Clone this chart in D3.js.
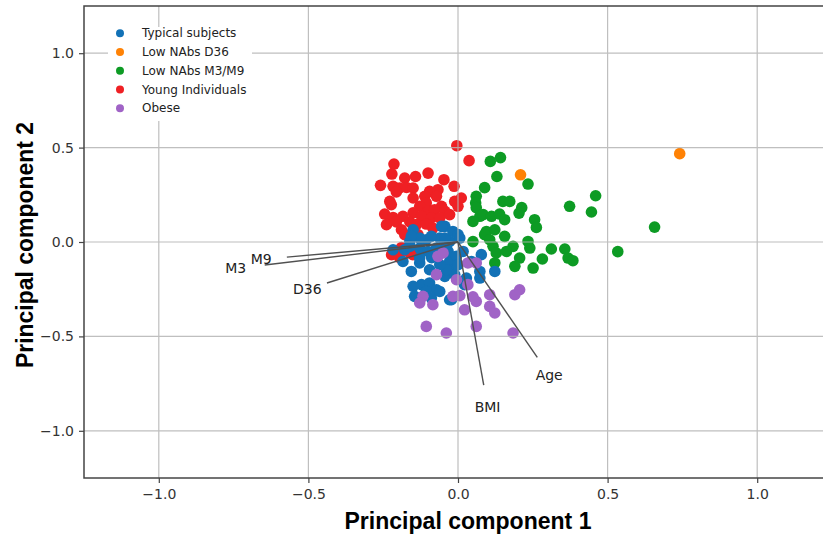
<!DOCTYPE html>
<html>
<head>
<meta charset="utf-8">
<script src="https://cdn.jsdelivr.net/npm/d3@7"></script>
<style>
  html, body { margin: 0; padding: 0; background: #fff; }
  svg { display: block; }
</style>
</head>
<body>
<svg id="chart" width="823" height="540"></svg>
<script>
// ---------------- DATA ----------------
const groupNames = ["Typical subjects", "Low NAbs D36", "Low NAbs M3/M9", "Young Individuals", "Obese"];
const groupColors = ["#1271b6", "#ff8205", "#0d9b24", "#ef2024", "#a063c6"];

const typical = [
  [-0.044,0.083],[-0.017,0.056],[-0.150,0.065],[-0.161,0.003],[-0.106,0.012],[-0.061,0.021],
  [-0.028,0.003],[0.000,0.039],[-0.178,-0.041],[-0.128,-0.032],[-0.100,-0.050],[-0.072,-0.032],
  [-0.033,-0.050],[-0.184,-0.103],[-0.128,-0.111],[-0.028,-0.103],[-0.005,-0.076],[-0.156,-0.156],
  [-0.095,-0.147],[-0.028,-0.147],[-0.044,-0.182],[-0.011,-0.173],[-0.150,-0.235],[-0.122,-0.226],
  [-0.095,-0.217],[-0.072,-0.253],[-0.145,-0.288],[-0.106,-0.262],[-0.089,-0.297],[-0.028,-0.306],
  [0.017,-0.050],[0.078,-0.067],[0.045,-0.103],[0.000,-0.120],[-0.039,-0.147],[0.073,-0.156],
  [0.123,-0.156],[0.028,-0.191],[0.073,-0.191],[0.022,-0.226],[-0.061,-0.262],[-0.022,-0.306],
  [-0.055,0.083],[0.006,0.021],[-0.044,0.021],[-0.089,0.030],[-0.128,0.021],[-0.156,0.030],
  [-0.039,-0.023],[-0.161,-0.023],[-0.217,-0.041],[-0.128,-0.085],[-0.088,-0.083],[-0.061,-0.120]
];
const lowD36 = [
  [0.741,0.468],[0.209,0.356]
];
const lowM3M9 = [
  [0.108,0.427],[0.142,0.447],[0.130,0.347],[0.234,0.307],[0.089,0.288],[0.061,0.242],
  [0.059,0.207],[0.061,0.182],[0.150,0.215],[0.173,0.215],[0.213,0.182],[0.204,0.153],
  [0.073,0.136],[0.084,0.145],[0.112,0.136],[0.139,0.148],[0.156,0.118],[0.050,0.109],
  [0.256,0.118],[0.262,0.077],[0.095,0.056],[0.123,0.065],[0.089,0.039],[0.156,0.030],
  [0.050,0.002],[0.234,0.003],[0.373,0.189],[0.460,0.245],[0.446,0.159],[0.657,0.079],
  [0.534,-0.051],[0.117,-0.023],[0.184,-0.023],[0.240,-0.032],[0.312,-0.037],[0.357,-0.037],
  [0.368,-0.085],[0.384,-0.099],[0.282,-0.090],[0.206,-0.085],[0.128,-0.058],[0.190,-0.129],
  [0.251,-0.138],[0.123,-0.111],[0.106,0.012],[0.162,-0.050]
];
const young = [
  [-0.004,0.510],[0.037,0.431],[-0.214,0.413],[-0.221,0.360],[-0.259,0.300],[-0.178,0.339],
  [-0.142,0.347],[-0.100,0.365],[-0.047,0.330],[-0.013,0.295],[-0.217,0.295],[-0.195,0.286],
  [-0.172,0.289],[-0.150,0.286],[-0.206,0.265],[-0.095,0.268],[-0.067,0.277],[-0.111,0.242],
  [-0.072,0.242],[-0.150,0.233],[-0.228,0.215],[-0.223,0.198],[-0.106,0.207],[-0.011,0.215],
  [0.000,0.189],[-0.055,0.189],[-0.128,0.189],[-0.150,0.154],[-0.100,0.162],[-0.078,0.171],
  [-0.044,0.162],[-0.245,0.148],[-0.217,0.130],[-0.184,0.136],[-0.122,0.136],[-0.089,0.127],
  [-0.061,0.127],[-0.028,0.145],[-0.239,0.092],[-0.206,0.106],[-0.189,0.065],[-0.161,0.106],
  [-0.139,0.092],[-0.106,0.095],[-0.084,0.074],[-0.178,0.039],[-0.134,0.039],[-0.050,0.083],
  [0.011,0.233],[-0.202,-0.057],[-0.161,-0.057],[-0.189,-0.030],[-0.195,-0.083],[-0.151,-0.067],
  [-0.222,-0.067]
];
const obese = [
  [-0.067,-0.076],[-0.072,-0.173],[-0.005,-0.200],[-0.117,-0.288],[-0.128,-0.323],[-0.084,-0.332],
  [-0.017,-0.288],[-0.106,-0.447],[-0.039,-0.482],[0.061,-0.111],[0.033,-0.226],[0.061,-0.315],
  [0.022,-0.359],[0.106,-0.279],[0.106,-0.341],[0.123,-0.376],[0.190,-0.279],[0.206,-0.253],
  [0.061,-0.447],[0.184,-0.482],[0.050,-0.290],[-0.050,-0.058],[0.006,-0.284],[0.033,-0.111]
];

const loadingNames = ["M9", "M3", "D36", "BMI", "Age"];
const loadingX = [-0.572, -0.646, -0.438, 0.086, 0.265];
const loadingY = [-0.080, -0.122, -0.217, -0.758, -0.611];

const tickValues = [-1.0, -0.5, 0.0, 0.5, 1.0];
const xTitle = "Principal component 1";
const yTitle = "Principal component 2";

// ---------------- LAYOUT ----------------
const svg = d3.select("#chart");
const x = d3.scaleLinear().domain([-1.25, 1.25]).range([84, 832]);
const y = d3.scaleLinear().domain([-1.25, 1.25]).range([478, 6]);

svg.append("rect").attr("width", 823).attr("height", 540).attr("fill", "#fff");

// points (drawn below grid, as in the reference)
const drawOrder = [
  {data: young, c: 3},
  {data: lowM3M9, c: 2},
  {data: typical, c: 0},
  {data: obese, c: 4},
  {data: lowD36, c: 1}
];
const gPts = svg.append("g");
drawOrder.forEach(g => {
  gPts.selectAll(null).data(g.data).enter().append("circle")
    .attr("cx", d => x(d[0])).attr("cy", d => y(d[1]))
    .attr("r", 5.8).attr("fill", groupColors[g.c]);
});

// grid
const gGrid = svg.append("g").attr("stroke", "#b4b4b4").attr("stroke-width", 1.2).attr("opacity", 0.85);
tickValues.forEach(v => {
  gGrid.append("line").attr("x1", x(v)).attr("x2", x(v)).attr("y1", 6).attr("y2", 478);
  gGrid.append("line").attr("x1", 84).attr("x2", 832).attr("y1", y(v)).attr("y2", y(v));
});

// loading vectors
const gLoad = svg.append("g");
loadingNames.forEach((n, i) => {
  gLoad.append("line")
    .attr("x1", x(0)).attr("y1", y(0))
    .attr("x2", x(loadingX[i])).attr("y2", y(loadingY[i]))
    .attr("stroke", "#505050").attr("stroke-width", 1.4);
  gLoad.append("text")
    .attr("x", x(loadingX[i] * 1.15)).attr("y", y(loadingY[i] * 1.15))
    .attr("text-anchor", "middle").attr("dominant-baseline", "central")
    .attr("font-family", "DejaVu Sans").attr("font-size", 14).attr("fill", "#222")
    .text(n);
});

// axes
const xAxis = d3.axisBottom(x).tickValues(tickValues).tickFormat(d3.format(".1f")).tickSize(5).tickPadding(6);
const yAxis = d3.axisLeft(y).tickValues(tickValues).tickFormat(d3.format(".1f")).tickSize(5).tickPadding(5);
const gx = svg.append("g").attr("transform", "translate(0,478)").call(xAxis);
const gy = svg.append("g").attr("transform", "translate(84,0)").call(yAxis);
[gx, gy].forEach(g => {
  g.select(".domain").remove();
  g.selectAll(".tick line").attr("stroke", "#444").attr("stroke-width", 1.2);
  g.selectAll(".tick text").attr("font-family", "DejaVu Sans").attr("font-size", 14).attr("fill", "#333");
});

// frame
svg.append("rect").attr("x", 84).attr("y", 6).attr("width", 748).attr("height", 472)
  .attr("fill", "none").attr("stroke", "#444").attr("stroke-width", 1.5);

// legend
const gLeg = svg.append("g");
gLeg.append("rect").attr("x", 108).attr("y", 27).attr("width", 144).attr("height", 94).attr("fill", "#fff");
groupNames.forEach((n, i) => {
  const yy = 33.3 + i * 18.75;
  gLeg.append("circle").attr("cx", 120).attr("cy", yy).attr("r", 4).attr("fill", groupColors[i]);
  gLeg.append("text").attr("x", 142).attr("y", yy).attr("dominant-baseline", "central")
    .attr("font-family", "DejaVu Sans").attr("font-size", 12).attr("fill", "#222").text(n);
});

// axis titles
svg.append("text").attr("x", 468).attr("y", 529).attr("text-anchor", "middle")
  .attr("font-family", "Liberation Sans, Arial, sans-serif").attr("font-weight", "bold")
  .attr("font-size", 23).attr("fill", "#000").attr("textLength", 247).attr("lengthAdjust", "spacingAndGlyphs")
  .text(xTitle);
svg.append("text").attr("transform", "translate(33,245) rotate(-90)").attr("text-anchor", "middle")
  .attr("font-family", "Liberation Sans, Arial, sans-serif").attr("font-weight", "bold")
  .attr("font-size", 24).attr("fill", "#000").attr("textLength", 246).attr("lengthAdjust", "spacingAndGlyphs")
  .text(yTitle);
</script>
</body>
</html>
